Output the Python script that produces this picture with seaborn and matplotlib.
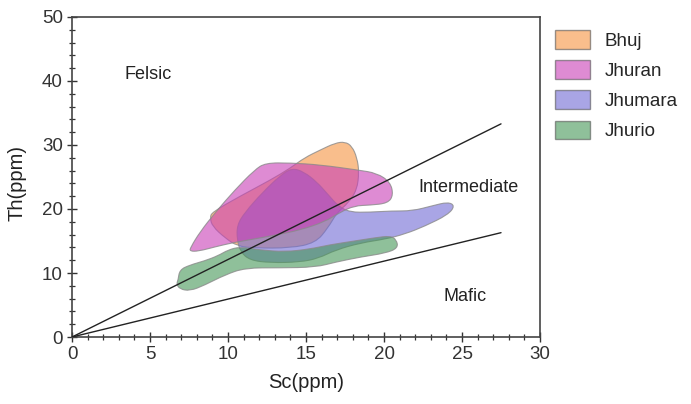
import matplotlib
matplotlib.use("Agg")
import matplotlib.pyplot as plt
from matplotlib.patches import Patch, PathPatch
from matplotlib.path import Path
from matplotlib.ticker import MultipleLocator
import seaborn as sns
import pandas as pd

# Field outlines for each member (Sc ppm, Th ppm)
bhuj_sc = [8.85, 8.97, 10.77, 12.7, 14.0, 14.9, 15.9, 16.86, 17.5, 17.95, 18.27, 18.4,
           18.27, 17.7, 17.0, 16.4, 15.6, 14.0, 11.7, 10.6, 9.8, 9.0]
bhuj_th = [18.6, 19.5, 22.0, 24.5, 26.4, 28.0, 29.2, 30.3, 30.5, 29.8, 28.0, 25.8,
           23.0, 20.9, 19.5, 17.0, 14.7, 13.9, 13.9, 14.2, 15.5, 17.3]

jhuran_sc = [7.6, 8.2, 9.2, 10.45, 11.7, 12.4, 14.0, 15.9, 18.3, 19.55, 20.4, 20.6,
             20.25, 19.1, 18.1, 17.2, 16.2, 14.6, 13.0, 11.4, 10.25, 9.2, 8.1, 7.55]
jhuran_th = [14.0, 16.4, 19.5, 23.0, 26.1, 27.2, 27.2, 26.9, 26.1, 25.6, 24.2, 22.2,
             20.9, 20.6, 20.5, 19.5, 18.0, 16.7, 15.9, 15.2, 14.7, 14.1, 13.4, 13.4]

jhumara_sc = [10.58, 10.58, 11.09, 12.18, 13.33, 14.1, 14.87, 15.7, 16.4, 17.05, 17.8,
              19.1, 20.5, 21.8, 23.1, 24.1, 24.55, 24.1, 22.6, 21.35, 20.1, 18.5, 16.9,
              15.8, 14.6, 12.7, 11.4, 10.8]
jhumara_th = [15.2, 17.5, 19.5, 22.5, 25.2, 26.4, 25.8, 24.2, 22.3, 20.5, 19.5,
              19.5, 19.7, 19.7, 20.5, 21.1, 20.5, 19.1, 17.3, 16.1, 15.3, 14.7, 13.6,
              12.3, 11.7, 11.6, 12.0, 13.3]

jhurio_sc = [6.8, 6.9, 7.56, 8.5, 9.36, 10.0, 10.77, 12.05, 13.65, 15.26, 16.5, 18.1,
             19.4, 20.4, 20.8, 20.9, 20.1, 18.5, 16.9, 15.6, 13.3, 11.1, 9.8, 8.5,
             7.56, 6.9, 6.7]
jhurio_th = [8.9, 10.5, 11.25, 11.9, 12.7, 13.6, 14.1, 13.6, 13.3, 13.75, 14.4, 15.0,
             15.5, 15.8, 15.2, 13.9, 13.1, 12.5, 11.7, 10.9, 10.8, 10.8, 9.7, 8.1,
             7.2, 7.5, 8.3]

names = ["Bhuj", "Jhuran", "Jhumara", "Jhurio"]
colors = ["#F5933F", "#C83EB7", "#7069D4", "#449657"]
# drawing order of the fields (back to front)
draw_order = ["Bhuj", "Jhumara", "Jhuran", "Jhurio"]

# Discrimination lines through the origin
line_sc = [0.0, 27.5]
felsic_th = [0.0, 33.3]
mafic_th = [0.0, 16.3]

field_labels = ["Felsic", "Intermediate", "Mafic"]
field_sc = [4.9, 25.4, 25.2]
field_th = [41.0, 23.4, 6.4]


def rounded_outline(xs, ys):
    """Closed outline with rounded corners (quadratic curves through edge midpoints)."""
    pts = list(zip(xs, ys))
    n = len(pts)
    mids = [((pts[i][0] + pts[(i + 1) % n][0]) / 2, (pts[i][1] + pts[(i + 1) % n][1]) / 2)
            for i in range(n)]
    verts = [mids[-1]]
    codes = [Path.MOVETO]
    for i in range(n):
        verts += [pts[i], mids[i]]
        codes += [Path.CURVE3, Path.CURVE3]
    verts.append(mids[-1])
    codes.append(Path.CLOSEPOLY)
    return Path(verts, codes)


sns.set_theme(style="ticks")
plt.rcParams["font.family"] = ["Liberation Sans", "DejaVu Sans"]

fig = plt.figure(figsize=(6.91, 4.04), dpi=100)
ax = fig.add_axes([0.1042, 0.1658, 0.6773, 0.7922])

fields = {
    "Bhuj": (bhuj_sc, bhuj_th),
    "Jhuran": (jhuran_sc, jhuran_th),
    "Jhumara": (jhumara_sc, jhumara_th),
    "Jhurio": (jhurio_sc, jhurio_th),
}
palette = dict(zip(names, colors))
alpha = 0.6
for name in draw_order:
    sc, th = fields[name]
    path = rounded_outline(sc, th)
    ax.add_patch(PathPatch(path, facecolor=palette[name], alpha=alpha,
                           edgecolor="none", zorder=2))
    ax.add_patch(PathPatch(path, facecolor="none", edgecolor="#8a8a8a",
                           linewidth=0.8, alpha=0.8, zorder=2))

lines = pd.DataFrame({
    "Sc": line_sc * 2,
    "Th": felsic_th + mafic_th,
    "kind": ["felsic"] * 2 + ["mafic"] * 2,
})
sns.lineplot(data=lines, x="Sc", y="Th", units="kind", estimator=None,
             color="#222222", linewidth=1.0, ax=ax, zorder=3, legend=False)

for lab, x, y in zip(field_labels, field_sc, field_th):
    ax.text(x, y, lab, ha="center", va="center", fontsize=13, color="#222222")

ax.set_xlim(0, 30)
ax.set_ylim(0, 50)
ax.xaxis.set_major_locator(MultipleLocator(5))
ax.xaxis.set_minor_locator(MultipleLocator(1))
ax.yaxis.set_major_locator(MultipleLocator(10))
ax.yaxis.set_minor_locator(MultipleLocator(2))
ax.tick_params(which="major", direction="inout", length=7, width=1.0,
               labelsize=13.5, colors="#333333", pad=3)
ax.tick_params(which="minor", direction="inout", length=4, width=0.9,
               colors="#333333")
ax.tick_params(labelcolor="#333333")
for sp in ax.spines.values():
    sp.set_color("#444444")
    sp.set_linewidth(1.2)

ax.set_xlabel("Sc(ppm)", fontsize=14.5, color="#222222", labelpad=7)
ax.set_ylabel("Th(ppm)", fontsize=14.5, color="#222222")
ax.yaxis.set_label_coords(-0.097, 0.48)

handles = [Patch(facecolor=c, alpha=alpha, edgecolor="#555555", linewidth=1.0)
           for c in colors]
fig.legend(handles, names, loc="upper left", bbox_to_anchor=(0.803, 0.925),
           bbox_transform=fig.transFigure, frameon=False, fontsize=13.5,
           handlelength=1.87, handleheight=1.17, labelspacing=0.55,
           handletextpad=0.8, borderpad=0, borderaxespad=0)

fig.savefig("out.png", dpi=100, facecolor="white")
